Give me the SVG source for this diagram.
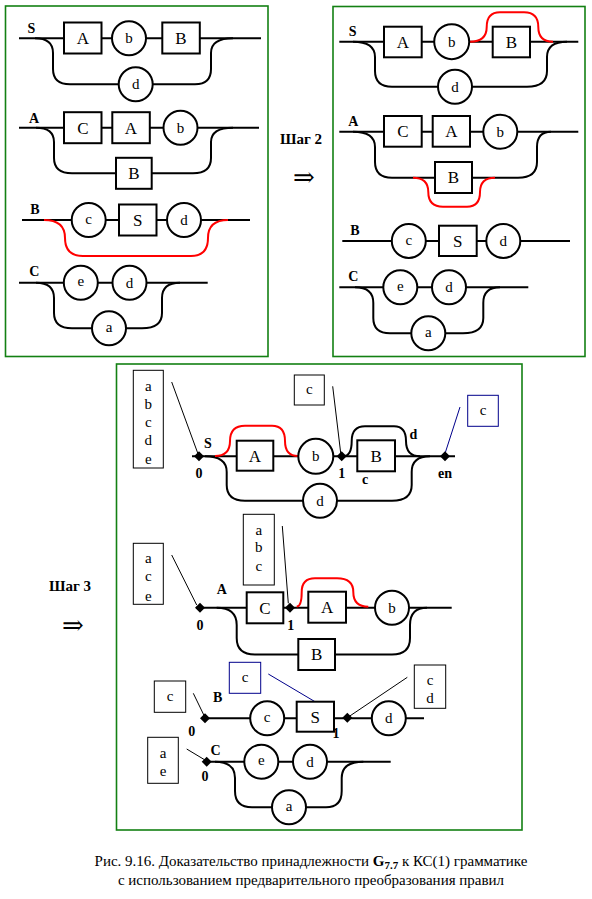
<svg xmlns="http://www.w3.org/2000/svg" xmlns:xlink="http://www.w3.org/1999/xlink" width="592" height="899" viewBox="0 0 592 899">
<style>
.pn{fill:none;stroke:#138013;stroke-width:1.6}
.ln{fill:none;stroke:#000;stroke-width:2}
.rd{fill:none;stroke:#ff0000;stroke-width:2}
.pt{fill:none;stroke:#000;stroke-width:1}
.bl{fill:none;stroke:#00008b;stroke-width:1}
.nb{fill:#fff;stroke:#000;stroke-width:2}
.tb{fill:#fff;stroke:#000;stroke-width:1}
.tbb{fill:#fff;stroke:#00008b;stroke-width:1}
text{font-family:"Liberation Serif","DejaVu Serif",serif;fill:#000;text-anchor:middle}
.bx{font-size:17px}
.ci{font-size:15px}
.lb{font-size:14px;font-weight:bold}
.sm{font-size:15px}
.st{font-size:15px;font-weight:bold}
.ar{font-size:26px;font-family:"DejaVu Serif","Liberation Serif",serif}
.cap{font-size:15px}
</style>
<defs>
<path id="dia" d="M0,-5 L5,0 L0,5 L-5,0Z" fill="#000"/>
</defs>
<rect width="592" height="899" fill="#fff"/>
<rect class="pn" x="5.5" y="6" width="262.5" height="350.5"/>
<rect class="pn" x="333" y="6.5" width="252" height="350"/>
<rect class="pn" x="116.5" y="364" width="405.5" height="466"/>
<text class="st" x="301" y="144">Шаг 2</text>
<text class="ar" x="304" y="186">⇒</text>
<text class="st" x="70" y="591">Шаг 3</text>
<text class="ar" x="73" y="634">⇒</text>
<g id="connectors">
<path class="ln" d="M19,38.3 H261"/>
<path class="ln" d="M35,38.3 Q53,38.3 53,53 V69 Q53,84.3 70,84.3 H195 Q211,84.3 211,69 V53 Q211,38.3 233,38.3"/>
<path class="ln" d="M19,127.7 H259"/>
<path class="ln" d="M36,127.7 Q54,127.7 54,142 V158 Q54,173.3 72,173.3 H193 Q211,173.3 211,158 V142 Q211,127.7 233,127.7"/>
<path class="ln" d="M22,220 H250"/>
<path class="rd" d="M44,220 Q65,220 65,238 Q65,256 83,256 H191 Q208,256 208,238 Q208,220 228,220"/>
<path class="ln" d="M19,282.7 H207.7"/>
<path class="ln" d="M36,282.7 Q54,282.7 54,298 V313 Q54,328.3 72,328.3 H142 Q162,328.3 162,313 V298 Q162,282.7 180,282.7"/>
<path class="ln" d="M339.3,41.7 H578.3"/>
<path class="ln" d="M353,41.7 Q375,41.7 375,57 V71 Q375,86.7 392,86.7 H527 Q547,86.7 547,71 V57 Q547,41.7 567,41.7"/>
<path class="rd" d="M470,41.7 Q486.7,41.7 486.7,27 Q486.7,12.3 500,12.3 H524 Q538.3,12.3 538.3,27 Q538.3,41.7 553,41.7"/>
<path class="ln" d="M339.3,131.7 H578.3"/>
<path class="ln" d="M353,131.7 Q375,131.7 375,147 V162 Q375,177.7 392,177.7 H518 Q537,177.7 537,162 V147 Q537,131.7 551,131.7"/>
<path class="rd" d="M413,177.7 Q428.3,177.7 428.3,192 Q428.3,206.7 443,206.7 H467 Q480,206.7 480,192 Q480,177.7 495,177.7"/>
<path class="ln" d="M342.3,241 H570"/>
<path class="ln" d="M339.3,287.3 H528.3"/>
<path class="ln" d="M355,287.3 Q373.3,287.3 373.3,303 V318 Q373.3,333.3 390,333.3 H463 Q483.3,333.3 483.3,318 V303 Q483.3,287.3 500,287.3"/>
<path class="ln" d="M192,456.3 H455"/>
<path class="ln" d="M205,456.3 Q226.7,456.3 226.7,472 V485 Q226.7,500.7 245,500.7 H392 Q411.7,500.7 411.7,485 V472 Q411.7,456.3 430,456.3"/>
<path class="rd" d="M215,456 Q230,456 230,441 Q230,425.7 245,425.7 H272 Q285,425.7 285,441 Q285,456 298,456"/>
<path class="ln" d="M343,456.3 Q351.7,456.3 351.7,441 Q351.7,426.3 365,426.3 H394 Q406,426.3 406,441 Q406,456.3 420,456.3"/>
<path class="pt" d="M171.7,382 L197.7,453"/>
<path class="pt" d="M332.7,386.3 L340.7,453"/>
<path class="bl" d="M460,407 L445.5,452"/>
<path class="ln" d="M196,607.7 H451.7"/>
<path class="ln" d="M216.7,607.7 Q236.7,607.7 236.7,625 V638 Q236.7,654.5 255,654.5 H392 Q410,654.5 410,638 V625 Q410,607.7 427,607.7"/>
<path class="rd" d="M296.7,606.5 Q301.7,606.5 301.7,592 Q301.7,578.3 315,578.3 H337 Q353.3,578.3 353.3,592 Q353.3,606.7 368.3,606.7"/>
<path class="pt" d="M171.7,555 L196.7,605"/>
<path class="pt" d="M282.3,526 L288.3,603.3"/>
<path class="ln" d="M205,718.3 H424"/>
<path class="bl" d="M268.3,674 L315,701.7"/>
<path class="pt" d="M193.3,693.3 L204.3,716"/>
<path class="pt" d="M407.3,677.3 L347.3,717.7"/>
<path class="ln" d="M206,761.7 H390.7"/>
<path class="ln" d="M215,761.7 Q235,761.7 235,778 V791 Q235,807.3 252,807.3 H326 Q341.7,807.3 341.7,791 V778 Q341.7,761.7 363.3,761.7"/>
<path class="pt" d="M186.7,749 L205,760"/>
</g>
<g id="p1-S">
<text class="lb" x="31.5" y="33">S</text>
<g id="p1-S-A"><rect class="nb" x="64" y="22.5" width="37.5" height="31"/><text class="bx" x="82.8" y="44">A</text></g>
<g id="p1-S-b"><circle class="nb" cx="129" cy="38.3" r="17"/><text class="ci" x="129" y="43.3">b</text></g>
<g id="p1-S-B"><rect class="nb" x="162.3" y="22.5" width="37.5" height="31"/><text class="bx" x="181" y="44">B</text></g>
<g id="p1-S-d"><circle class="nb" cx="135.7" cy="84.3" r="17"/><text class="ci" x="135.7" y="89.3">d</text></g>
</g>
<g id="p1-A">
<text class="lb" x="34" y="122.5">A</text>
<g id="p1-A-C"><rect class="nb" x="64" y="112.2" width="37.5" height="31"/><text class="bx" x="82.8" y="133.5">C</text></g>
<g id="p1-A-A"><rect class="nb" x="112.3" y="112.2" width="37.5" height="31"/><text class="bx" x="131" y="133.5">A</text></g>
<g id="p1-A-b"><circle class="nb" cx="180.5" cy="127.7" r="17"/><text class="ci" x="180.5" y="132.7">b</text></g>
<g id="p1-A-B"><rect class="nb" x="116" y="157.8" width="35.7" height="31"/><text class="bx" x="133.8" y="179">B</text></g>
</g>
<g id="p1-B">
<text class="lb" x="35" y="213.5">B</text>
<g id="p1-B-c"><circle class="nb" cx="88.7" cy="220" r="17"/><text class="ci" x="88.7" y="223.5">c</text></g>
<g id="p1-B-S"><rect class="nb" x="119" y="204.5" width="37.5" height="31"/><text class="bx" x="137.8" y="225.8">S</text></g>
<g id="p1-B-d"><circle class="nb" cx="184" cy="220" r="17"/><text class="ci" x="184" y="225">d</text></g>
</g>
<g id="p1-C">
<text class="lb" x="34.3" y="276">C</text>
<g id="p1-C-e"><circle class="nb" cx="80.8" cy="282.7" r="17"/><text class="ci" x="80.8" y="286.2">e</text></g>
<g id="p1-C-d"><circle class="nb" cx="129.5" cy="282.7" r="17"/><text class="ci" x="129.5" y="287.7">d</text></g>
<g id="p1-C-a"><circle class="nb" cx="109" cy="328.3" r="17"/><text class="ci" x="109" y="331.8">a</text></g>
</g>
<g id="p2-S">
<text class="lb" x="352.7" y="35.5">S</text>
<g id="p2-S-A"><rect class="nb" x="384" y="26.7" width="37.7" height="30.6"/><text class="bx" x="402.8" y="47.8">A</text></g>
<g id="p2-S-b"><circle class="nb" cx="451.7" cy="41.7" r="17.5"/><text class="ci" x="451.7" y="46.7">b</text></g>
<g id="p2-S-B"><rect class="nb" x="492.7" y="26.7" width="37.3" height="30.6"/><text class="bx" x="511.3" y="47.8">B</text></g>
<g id="p2-S-d"><circle class="nb" cx="455" cy="86.7" r="17"/><text class="ci" x="455" y="91.7">d</text></g>
</g>
<g id="p2-A">
<text class="lb" x="353.3" y="126">A</text>
<g id="p2-A-C"><rect class="nb" x="384" y="116" width="37.7" height="30.7"/><text class="bx" x="402.8" y="137.3">C</text></g>
<g id="p2-A-A"><rect class="nb" x="432.7" y="116" width="37.3" height="30.7"/><text class="bx" x="451.3" y="137.3">A</text></g>
<g id="p2-A-b"><circle class="nb" cx="500.3" cy="131.7" r="17"/><text class="ci" x="500.3" y="136.7">b</text></g>
<g id="p2-A-B"><rect class="nb" x="435" y="162" width="37" height="31"/><text class="bx" x="453.5" y="183.3">B</text></g>
</g>
<g id="p2-B">
<text class="lb" x="355" y="234.5">B</text>
<g id="p2-B-c"><circle class="nb" cx="408.8" cy="241" r="17"/><text class="ci" x="408.8" y="244.5">c</text></g>
<g id="p2-B-S"><rect class="nb" x="439" y="225.7" width="37.7" height="30.3"/><text class="bx" x="457.8" y="246.8">S</text></g>
<g id="p2-B-d"><circle class="nb" cx="503.3" cy="241" r="17"/><text class="ci" x="503.3" y="246">d</text></g>
</g>
<g id="p2-C">
<text class="lb" x="353.3" y="281">C</text>
<g id="p2-C-e"><circle class="nb" cx="400.3" cy="287.3" r="17"/><text class="ci" x="400.3" y="290.8">e</text></g>
<g id="p2-C-d"><circle class="nb" cx="449" cy="287.3" r="17"/><text class="ci" x="449" y="292.3">d</text></g>
<g id="p2-C-a"><circle class="nb" cx="428.3" cy="333.3" r="17"/><text class="ci" x="428.3" y="336.8">a</text></g>
</g>
<g id="p3-S">
<g id="p3-S-la"><rect class="tb" x="133.3" y="370.3" width="30" height="97.7"/><text class="sm" x="148.3" y="391">a</text><text class="sm" x="148.3" y="409">b</text><text class="sm" x="148.3" y="427">c</text><text class="sm" x="148.3" y="445">d</text><text class="sm" x="148.3" y="463.5">e</text></g>
<use xlink:href="#dia" x="199" y="456.3"/>
<text class="lb" x="208" y="447.5">S</text>
<text class="lb" x="199" y="477.5">0</text>
<g id="p3-S-A"><rect class="nb" x="236.7" y="440.7" width="36.6" height="30"/><text class="bx" x="255" y="461.8">A</text></g>
<g id="p3-S-b"><circle class="nb" cx="315.8" cy="456.3" r="17.5"/><text class="ci" x="315.8" y="461.3">b</text></g>
<g id="p3-S-lc"><rect class="tb" x="294.3" y="375" width="30" height="30"/><text class="sm" x="309.3" y="393.5">c</text></g>
<use xlink:href="#dia" x="341.7" y="456.3"/>
<text class="lb" x="341.7" y="477.5">1</text>
<g id="p3-S-B"><rect class="nb" x="357.3" y="440.3" width="37.7" height="31"/><text class="bx" x="376.2" y="461.6">B</text></g>
<text class="lb" x="365" y="484">c</text>
<text class="lb" x="413.3" y="439">d</text>
<use xlink:href="#dia" x="445" y="456.3"/>
<text class="lb" x="445" y="477.5">en</text>
<g id="p3-S-lend"><rect class="tbb" x="467.7" y="395.3" width="30.6" height="31"/><text class="sm" x="483" y="415">c</text></g>
<g id="p3-S-d"><circle class="nb" cx="320" cy="500.7" r="17"/><text class="ci" x="320" y="505.7">d</text></g>
</g>
<g id="p3-A">
<g id="p3-A-la"><rect class="tb" x="133.3" y="543.3" width="30" height="61"/><text class="sm" x="148.3" y="563">a</text><text class="sm" x="148.3" y="581.3">c</text><text class="sm" x="148.3" y="600.5">e</text></g>
<use xlink:href="#dia" x="200" y="607.7"/>
<text class="lb" x="200" y="629.5">0</text>
<text class="lb" x="221.7" y="594">A</text>
<g id="p3-A-C"><rect class="nb" x="246.7" y="592.3" width="36.6" height="31"/><text class="bx" x="265" y="613.6">C</text></g>
<g id="p3-A-lc"><rect class="tb" x="243.3" y="514.3" width="31" height="70.7"/><text class="sm" x="258.8" y="534.5">a</text><text class="sm" x="258.8" y="552.3">b</text><text class="sm" x="258.8" y="570.5">c</text></g>
<use xlink:href="#dia" x="290" y="607.7"/>
<text class="lb" x="290.7" y="629.5">1</text>
<g id="p3-A-A"><rect class="nb" x="308.3" y="591.7" width="37.7" height="31"/><text class="bx" x="327.2" y="613">A</text></g>
<g id="p3-A-b"><circle class="nb" cx="392" cy="607.7" r="17"/><text class="ci" x="392" y="612.7">b</text></g>
<g id="p3-A-B"><rect class="nb" x="298.3" y="639" width="36.7" height="31"/><text class="bx" x="316.7" y="660.3">B</text></g>
</g>
<g id="p3-B">
<g id="p3-B-lb"><rect class="tbb" x="229.3" y="662.3" width="31.4" height="31"/><text class="sm" x="245" y="682">c</text></g>
<g id="p3-B-la"><rect class="tb" x="154.3" y="681" width="31.4" height="31.3"/><text class="sm" x="170" y="700.5">c</text></g>
<use xlink:href="#dia" x="205" y="718.3"/>
<text class="lb" x="191.7" y="736">0</text>
<text class="lb" x="217.7" y="702">B</text>
<g id="p3-B-c"><circle class="nb" cx="267.2" cy="718.3" r="17"/><text class="ci" x="267.2" y="721.8">c</text></g>
<g id="p3-B-S"><rect class="nb" x="296.7" y="701.7" width="37.3" height="30"/><text class="bx" x="315.3" y="722.8">S</text></g>
<text class="lb" x="336" y="738">1</text>
<use xlink:href="#dia" x="347.3" y="717.7"/>
<g id="p3-B-lc"><rect class="tb" x="414.3" y="665" width="31.4" height="43.3"/><text class="sm" x="430" y="685">c</text><text class="sm" x="430" y="703">d</text></g>
<g id="p3-B-d"><circle class="nb" cx="388.8" cy="718.3" r="17"/><text class="ci" x="388.8" y="723.3">d</text></g>
</g>
<g id="p3-C">
<g id="p3-C-la"><rect class="tb" x="147.7" y="737.3" width="30.6" height="46"/><text class="sm" x="163" y="757.5">a</text><text class="sm" x="163" y="776">e</text></g>
<use xlink:href="#dia" x="206.7" y="761.7"/>
<text class="lb" x="205" y="781">0</text>
<text class="lb" x="215.5" y="754.5">C</text>
<g id="p3-C-e"><circle class="nb" cx="261.3" cy="761.7" r="17"/><text class="ci" x="261.3" y="765.2">e</text></g>
<g id="p3-C-d"><circle class="nb" cx="310" cy="761.7" r="17"/><text class="ci" x="310" y="766.7">d</text></g>
<g id="p3-C-a"><circle class="nb" cx="289" cy="807.3" r="17"/><text class="ci" x="289" y="810.8">a</text></g>
</g>
<g id="caption">
<text class="cap" x="311" y="866">Рис. 9.16. Доказательство принадлежности <tspan font-weight="bold">G</tspan><tspan font-weight="bold" font-size="11" dy="3">7.7</tspan><tspan dy="-3"> к КС(1) грамматике</tspan></text>
<text class="cap" x="311" y="885">с использованием предварительного преобразования правил</text>
</g>
</svg>
